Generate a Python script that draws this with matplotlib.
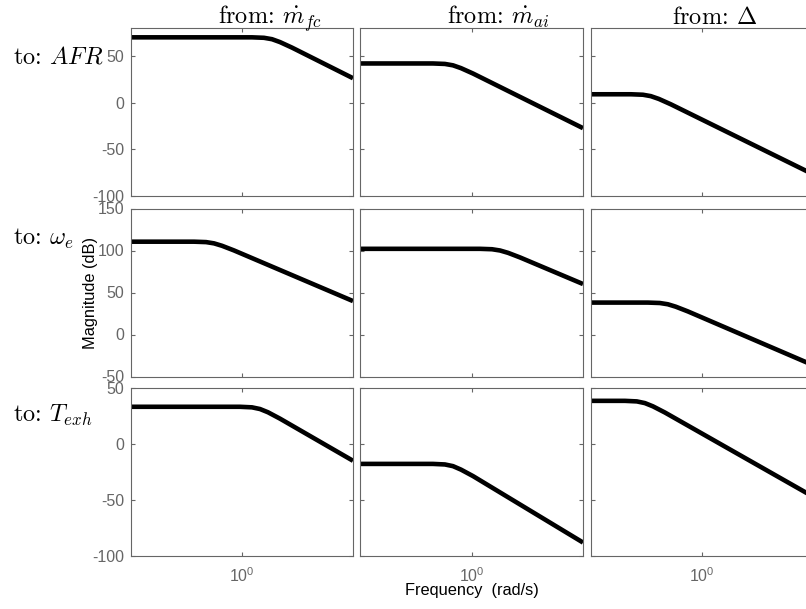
import matplotlib.pyplot as plt
from matplotlib.ticker import FixedLocator, NullLocator

plt.rcParams['font.family'] = ['Liberation Sans', 'DejaVu Sans']
plt.rcParams['mathtext.fontset'] = 'cm'
plt.rcParams['axes.unicode_minus'] = False

# inputs (columns) and outputs (rows)
input_names = [r'\dot{m}_{fc}', r'\dot{m}_{ai}', r'\Delta']
output_names = [r'AFR', r'\omega_e', r'T_{exh}']

# magnitude curves (rad/s, dB)
freq_afr = [[0.316, 1.109, 1.256, 1.365, 1.483, 1.679, 3.162],
            [0.316, 0.671, 0.760, 0.826, 0.897, 1.016, 3.162],
            [0.316, 0.478, 0.541, 0.587, 0.638, 0.723, 3.162]]
mag_afr = [[70, 70, 69.5, 68.0, 64.9, 59.0, 26.2],
           [42, 42, 41.5, 40.0, 37.0, 31.2, -27.3],
           [9, 9, 8.5, 7.0, 4.0, -1.8, -77.0]]

freq_we = [[0.316, 0.608, 0.689, 0.748, 0.813, 0.920, 3.162],
           [0.316, 1.091, 1.236, 1.343, 1.459, 1.652, 3.162],
           [0.316, 0.569, 0.644, 0.700, 0.760, 0.861, 3.162]]
mag_we = [[110.5, 110.5, 110.0, 108.5, 105.6, 100.1, 39.8],
          [102, 102, 101.5, 100.0, 97.2, 91.7, 60.1],
          [38, 38, 37.5, 36.0, 33.1, 27.5, -36.8]]

freq_texh = [[0.316, 0.979, 1.109, 1.205, 1.309, 1.483, 3.162],
             [0.316, 0.671, 0.760, 0.826, 0.897, 1.016, 3.162],
             [0.316, 0.449, 0.508, 0.552, 0.600, 0.679, 3.162]]
mag_texh = [[33.5, 33.5, 33.0, 31.5, 28.6, 22.9, -14.7],
            [-17.5, -17.5, -18.0, -19.5, -22.6, -28.4, -87.7],
            [38.8, 38.8, 38.3, 36.8, 33.9, 28.4, -47.0]]

freqs = [freq_afr, freq_we, freq_texh]
mags = [mag_afr, mag_we, mag_texh]

row_ylims = [(-100, 80), (-50, 150), (-100, 50)]
row_yticks = [[-100, -50, 0, 50], [-50, 0, 50, 100, 150], [-100, -50, 0, 50]]

W, H = 806, 609
col_left = [131, 360, 591]
col_width = [222, 223, 222.6]
row_top = [28, 208.5, 388.3]
row_h = 168
gray = '#666666'

fig = plt.figure(figsize=(W / 100, H / 100), dpi=100)

for i in range(3):
    for j in range(3):
        ax = fig.add_axes([col_left[j] / W, 1 - (row_top[i] + row_h) / H,
                           col_width[j] / W, row_h / H])
        ax.semilogx(freqs[i][j], mags[i][j], color='k', lw=3.3,
                    solid_capstyle='butt')
        ax.set_xlim(10 ** -0.5, 10 ** 0.5)
        ax.set_ylim(*row_ylims[i])
        ax.set_yticks(row_yticks[i])
        ax.xaxis.set_major_locator(FixedLocator([1]))
        ax.xaxis.set_minor_locator(NullLocator())
        ax.tick_params(direction='in', top=True, right=True, length=3,
                       width=0.8, colors=gray, labelsize=11.5)
        ax.tick_params(axis='y', pad=5)
        ax.tick_params(axis='x', pad=7)
        if j > 0:
            ax.set_yticklabels([])
        if i < 2:
            ax.set_xticklabels([])
        else:
            ax.set_xticklabels([r'$\mathdefault{10^{0}}$'])
        for s in ax.spines.values():
            s.set_color(gray)
            s.set_linewidth(0.8)

# column titles (plain words in Computer Modern, symbols in mathtext)
title_x = [218, 447, 672]
for j in range(3):
    fig.text(title_x[j] / W, 1 - 23.5 / H,
             'from: $' + input_names[j] + '$',
             family='cmr10', ha='left', va='baseline', fontsize=17.5)

# row labels
label_base = [63.3, 245, 421.7]
for i in range(3):
    fig.text(13 / W, 1 - label_base[i] / H,
             'to: $' + output_names[i] + '$',
             family='cmr10', ha='left', va='baseline', fontsize=17.5)

fig.text(90 / W, 1 - 293 / H, 'Magnitude (dB)', rotation=90,
         ha='center', va='center', fontsize=11.8)
fig.text(472 / W, 1 - 590 / H, 'Frequency  (rad/s)',
         ha='center', va='center', fontsize=11.8)

fig.savefig('out.png', dpi=100)
